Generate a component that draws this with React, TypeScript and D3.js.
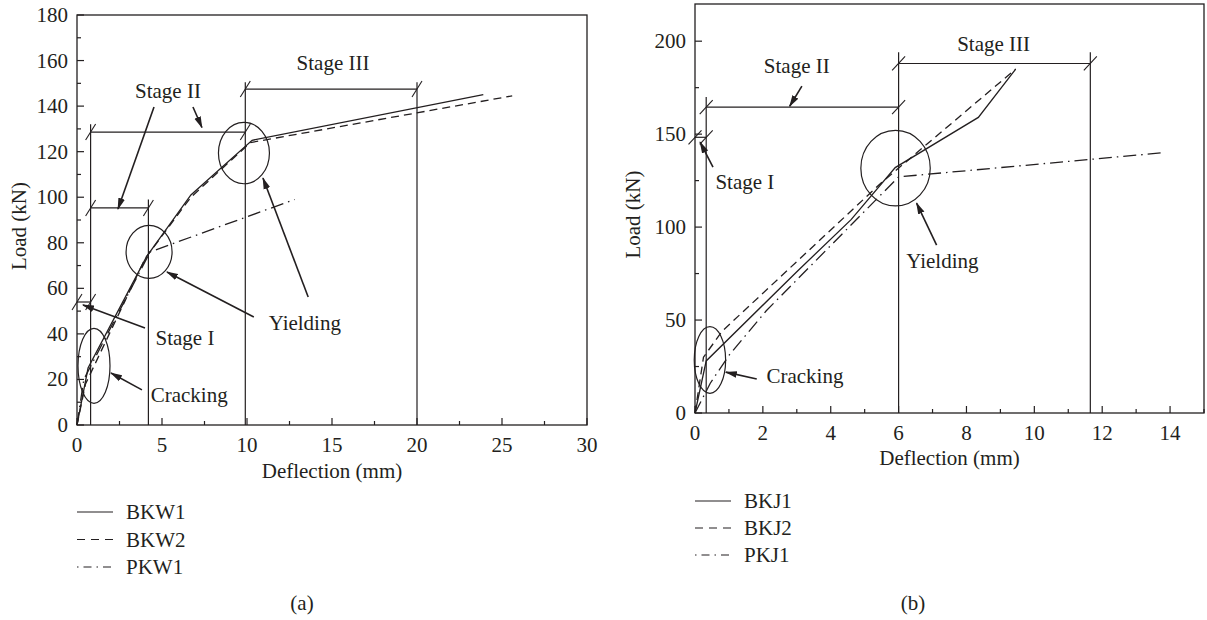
import React from "react";
import * as d3 from "d3";

const FONT = "'Liberation Serif', 'DejaVu Serif', serif";
const INK = "#231f20";
const FS = 21;

type Pt = [number, number];

// ---- panel (a): BKW / PKW beams ----
const kwXTicks = [0, 5, 10, 15, 20, 25, 30];
const kwXMinor = [2.5, 7.5, 12.5, 17.5, 22.5, 27.5];
const kwYTicks = [0, 20, 40, 60, 80, 100, 120, 140, 160, 180];
const kwYMinor = [10, 30, 50, 70, 90, 110, 130, 150, 170];
const bkw1: Pt[] = [[0, 0], [0.65, 25], [4.1, 74], [6.7, 101], [10.3, 125], [23.9, 145]];
const bkw2: Pt[] = [[0, 0], [0.5, 18], [4.0, 73], [6.7, 100], [10.2, 124], [25.6, 144.5]];
const pkw1: Pt[] = [[0, 0], [0.4, 20], [4.3, 76], [12.8, 99]];
const kwNames = ["BKW1", "BKW2", "PKW1"];
// stage marks: vertical lines [x, top], brackets [x1, x2, y]
const kwVerticals: Pt[] = [[0.8, 132], [4.2, 99], [9.9, 150.5], [20, 150.5]];
const kwBrackets: [number, number, number][] = [[0, 0.8, 54], [0.8, 4.2, 95.3], [0.8, 9.9, 128.6], [9.9, 20, 147.5]];
const kwEllipses: [number, number, number, number][] = [[1.0, 26, 16, 37.5], [4.24, 76, 23, 26.5], [9.82, 119.4, 25.5, 30.7]];
const kwArrows: [Pt, Pt][] = [
  [[4.53, 139.6], [2.41, 94.8]],
  [[6.82, 139.6], [7.35, 130.6]],
  [[10.4, 47.4], [5.29, 67.2]],
  [[13.6, 56.2], [10.94, 108.4]],
  [[4.0, 42.6], [0.35, 52.7]],
  [[3.82, 15.4], [2.0, 22.8]],
];
const kwLabels: [number, number, string][] = [
  [5.35, 146.6, "Stage II"],
  [15.06, 158.9, "Stage III"],
  [13.4, 44.8, "Yielding"],
  [6.35, 38.2, "Stage I"],
  [6.6, 13, "Cracking"],
];

// ---- panel (b): BKJ / PKJ beams ----
const kjXTicks = [0, 2, 4, 6, 8, 10, 12, 14];
const kjXMinor = [1, 3, 5, 7, 9, 11, 13, 15];
const kjYTicks = [0, 50, 100, 150, 200];
const kjYMinor = [25, 75, 125, 175];
const bkj1: Pt[] = [[0, 0], [0.33, 28], [3, 76], [4.6, 104], [5.9, 132], [8.35, 159], [9.45, 185]];
const bkj2: Pt[] = [[0, 0], [0.25, 30], [0.8, 44], [5.5, 124], [9.45, 185]];
const pkj1: Pt[] = [[0, 0], [0.45, 16], [1.0, 31], [2.1, 55], [6.0, 127], [13.8, 140]];
const kjNames = ["BKJ1", "BKJ2", "PKJ1"];
const kjVerticals: Pt[] = [[0.33, 170], [6, 194], [11.65, 194]];
const kjBrackets: [number, number, number][] = [[0, 0.33, 148.3], [0.33, 6, 164.5], [6, 11.65, 188]];
const kjEllipses: [number, number, number, number][] = [[5.91, 131.7, 34.7, 37.8], [0.44, 28.5, 15.7, 33.3]];
const kjArrows: [Pt, Pt][] = [
  [[0.53, 132.3], [0.15, 145.7]],
  [[3.15, 175.8], [2.79, 165]],
  [[7.12, 90.3], [6.53, 112.9]],
  [[1.82, 18.3], [0.91, 22]],
];
const kjLabels: [number, number, string][] = [
  [1.47, 124.2, "Stage I"],
  [3.0, 186.6, "Stage II"],
  [8.8, 198.4, "Stage III"],
  [7.29, 81.7, "Yielding"],
  [3.24, 19.9, "Cracking"],
];

const dashes = [null, "8 5", "13 5 1.5 5"];

interface PanelProps {
  box: { l: number; r: number; t: number; b: number };
  xMax: number;
  yMax: number;
  xTicks: number[];
  xMinor: number[];
  yTicks: number[];
  yMinor: number[];
  series: Pt[][];
  names: string[];
  verticals: Pt[];
  brackets: [number, number, number][];
  ellipses: [number, number, number, number][];
  arrows: [Pt, Pt][];
  labels: [number, number, string][];
  slash: Pt;
  legendX: number;
  legendY: number;
  legendGap: number;
  xTitleY: number;
  yTitleX: number;
  caption: string;
  captionX: number;
}

function Panel(p: PanelProps) {
  const { box } = p;
  const x = d3.scaleLinear().domain([0, p.xMax]).range([box.l, box.r]);
  const y = d3.scaleLinear().domain([0, p.yMax]).range([box.b, box.t]);
  const line = d3.line<Pt>().x((d) => x(d[0])).y((d) => y(d[1]));
  const [sdx, sdy] = p.slash;
  const slashAt = (px: number, py: number, k: string) => (
    <line key={k} x1={px - sdx} y1={py + sdy} x2={px + sdx} y2={py - sdy} stroke={INK} strokeWidth={1.1} />
  );
  return (
    <g fontFamily={FONT} fill={INK}>
      {/* frame */}
      <rect x={box.l} y={box.t} width={box.r - box.l} height={box.b - box.t} fill="none" stroke={INK} strokeWidth={1.3} />
      {p.xTicks.map((t) => (
        <g key={"xt" + t}>
          <line x1={x(t)} x2={x(t)} y1={box.b} y2={box.b - 7} stroke={INK} strokeWidth={1.2} />
          <text x={x(t)} y={box.b + 20} textAnchor="middle" dominantBaseline="central" fontSize={FS}>{t}</text>
        </g>
      ))}
      {p.xMinor.map((t) => (
        <line key={"xm" + t} x1={x(t)} x2={x(t)} y1={box.b} y2={box.b - 4} stroke={INK} strokeWidth={1.2} />
      ))}
      {p.yTicks.map((t) => (
        <g key={"yt" + t}>
          <line x1={box.l} x2={box.l + 7} y1={y(t)} y2={y(t)} stroke={INK} strokeWidth={1.2} />
          <text x={box.l - 9} y={y(t)} textAnchor="end" dominantBaseline="central" fontSize={FS}>{t}</text>
        </g>
      ))}
      {p.yMinor.map((t) => (
        <line key={"ym" + t} x1={box.l} x2={box.l + 4} y1={y(t)} y2={y(t)} stroke={INK} strokeWidth={1.2} />
      ))}
      <text x={(box.l + box.r) / 2} y={p.xTitleY} textAnchor="middle" dominantBaseline="central" fontSize={FS}>Deflection (mm)</text>
      <text transform={`translate(${p.yTitleX},${(box.t + box.b) / 2 + 6}) rotate(-90)`} textAnchor="middle" dominantBaseline="central" fontSize={FS}>Load (kN)</text>

      {/* stage marks */}
      {p.verticals.map(([vx, top], i) => (
        <line key={"v" + i} x1={x(vx)} x2={x(vx)} y1={box.b} y2={y(top)} stroke={INK} strokeWidth={1.2} />
      ))}
      {p.brackets.map(([x1, x2, by], i) => (
        <g key={"b" + i}>
          <line x1={x(x1)} x2={x(x2)} y1={y(by)} y2={y(by)} stroke={INK} strokeWidth={1.2} />
          {slashAt(x(x1), y(by), "s1")}
          {slashAt(x(x2), y(by), "s2")}
        </g>
      ))}

      {/* curves */}
      {p.series.map((s, i) => (
        <path key={"s" + i} d={line(s) || ""} fill="none" stroke={INK} strokeWidth={1.3}
          strokeDasharray={dashes[i] || undefined} />
      ))}

      {p.ellipses.map(([ex, ey, rx, ry], i) => (
        <ellipse key={"e" + i} cx={x(ex)} cy={y(ey)} rx={rx} ry={ry} fill="none" stroke={INK} strokeWidth={1.2} />
      ))}
      {p.arrows.map(([a, b], i) => (
        <line key={"a" + i} x1={x(a[0])} y1={y(a[1])} x2={x(b[0])} y2={y(b[1])} stroke={INK} strokeWidth={1.6}
          markerEnd="url(#arrowhead)" />
      ))}
      {p.labels.map(([lx, ly, txt], i) => (
        <text key={"l" + i} x={x(lx)} y={y(ly)} textAnchor="middle" dominantBaseline="central" fontSize={FS}>{txt}</text>
      ))}

      {/* legend */}
      {p.names.map((n, i) => {
        const ly = p.legendY + i * p.legendGap;
        return (
          <g key={"lg" + n}>
            <line x1={p.legendX} x2={p.legendX + 36} y1={ly} y2={ly} stroke={INK} strokeWidth={1.2}
              strokeDasharray={i === 1 ? "8 6" : i === 2 ? "1.5 5 8 5" : undefined} />
            <text x={p.legendX + 49} y={ly} dominantBaseline="central" fontSize={FS}>{n}</text>
          </g>
        );
      })}
      <text x={p.captionX} y={603} textAnchor="middle" dominantBaseline="central" fontSize={FS}>{p.caption}</text>
    </g>
  );
}

export default function App() {
  return (
    <svg width={1207} height={620} style={{ position: "absolute", left: 0, top: 0, background: "#fff" }}>
      <defs>
        <marker id="arrowhead" viewBox="0 0 12 8" refX={11} refY={4} markerWidth={12} markerHeight={8}
          markerUnits="userSpaceOnUse" orient="auto">
          <path d="M0,0.6 L12,4 L0,7.4 z" fill={INK} />
        </marker>
      </defs>
      <rect width={1207} height={620} fill="#fff" />
      <Panel
        box={{ l: 77, r: 587, t: 15, b: 425 }}
        xMax={30} yMax={180}
        xTicks={kwXTicks} xMinor={kwXMinor} yTicks={kwYTicks} yMinor={kwYMinor}
        series={[bkw1, bkw2, pkw1]} names={kwNames}
        verticals={kwVerticals} brackets={kwBrackets} ellipses={kwEllipses}
        arrows={kwArrows} labels={kwLabels}
        slash={[5, 8]}
        legendX={77} legendY={512} legendGap={27.5}
        xTitleY={471} yTitleX={19}
        caption="(a)" captionX={302}
      />
      <Panel
        box={{ l: 695, r: 1204, t: 4, b: 413 }}
        xMax={15} yMax={220}
        xTicks={kjXTicks} xMinor={kjXMinor} yTicks={kjYTicks} yMinor={kjYMinor}
        series={[bkj1, bkj2, pkj1]} names={kjNames}
        verticals={kjVerticals} brackets={kjBrackets} ellipses={kjEllipses}
        arrows={kjArrows} labels={kjLabels}
        slash={[6.5, 7]}
        legendX={695} legendY={501} legendGap={27}
        xTitleY={458} yTitleX={633}
        caption="(b)" captionX={913}
      />
    </svg>
  );
}
